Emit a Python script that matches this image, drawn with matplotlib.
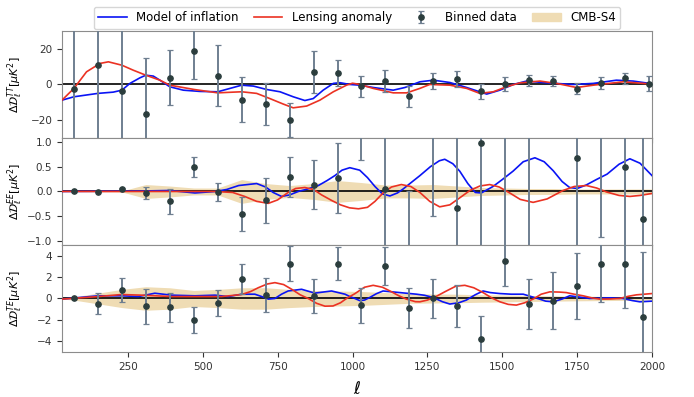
import matplotlib
matplotlib.use("Agg")
import matplotlib.pyplot as plt
import matplotlib.patches as mpatches

# binned data (bin centres in ell)
ell_tt = [70, 150, 230, 310, 390, 470, 550, 630, 710, 790, 870, 950, 1030,
          1110, 1190, 1270, 1350, 1430, 1510, 1590, 1670, 1750, 1830, 1910, 1990]
ell_pol = [70, 150, 230, 310, 390, 470, 550, 630, 710, 790, 870, 950, 1030,
           1110, 1190, 1270, 1350, 1430, 1510, 1590, 1670, 1750, 1830, 1910, 1970]

tt_data = [-2.4, 11.0, -3.8, -16.5, 3.8, 19.0, 5.0, -8.5, -11.0, -19.8, 7.0, 6.3, -1.0,
           1.9, -6.7, 1.9, 3.1, -3.8, 0.2, 2.4, 1.9, -2.3, 0.7, 3.4, 0.5]
tt_err = [60, 60, 60, 31.5, 15.5, 15.8, 17.0, 12.7, 12.0, 9.5, 12.0, 7.2, 6.0,
          6.0, 6.0, 4.5, 4.5, 4.3, 4.0, 3.0, 3.0, 3.0, 3.5, 3.0, 4.0]

ee_data = [0.0, -0.01, 0.05, -0.03, -0.2, 0.49, -0.01, -0.46, -0.18, 0.29, 0.14, 0.27, 1.3,
           0.05, -1.3, 1.2, -0.33, 0.97, -1.5, 1.6, -1.8, 0.68, 1.2, 0.5, -0.55]
ee_err = [0.01, 0.01, 0.02, 0.13, 0.25, 0.2, 0.19, 0.34, 0.45, 0.41, 0.5, 0.71, 0.67,
          1.3, 1.31, 1.7, 1.5, 2.2, 3.0, 3.2, 0.5, 1.9, 2.12, 1.8, 1.8]

te_data = [0.0, -0.49, 0.77, -0.74, -0.83, -2.0, -0.4, 1.78, 0.31, 3.26, 0.25, 3.26, -0.62,
           3.05, -0.89, 0.0, -0.68, -3.82, 3.48, -0.52, -0.22, 1.14, 3.2, 3.23, -1.69]
te_err = [0.03, 0.97, 1.1, 1.63, 1.35, 1.23, 1.2, 1.4, 1.62, 1.65, 1.6, 1.55, 1.63,
          1.8, 1.83, 1.8, 1.95, 2.2, 2.3, 2.35, 2.65, 3.1, 3.57, 4.15, 6.0]

# CMB-S4 forecast band (half width)
band_ell = [30, 70, 150, 230, 310, 390, 470, 550, 630, 710, 790, 870, 950, 1030,
            1110, 1190, 1270, 1350, 1430, 1510, 1590, 1670, 1750, 1830, 1910, 2000]
ee_band = [0.0, 0.0, 0.005, 0.01, 0.14, 0.11, 0.07, 0.07, 0.24, 0.16, 0.12, 0.16, 0.22, 0.18,
           0.13, 0.13, 0.14, 0.11, 0.08, 0.07, 0.06, 0.06, 0.05, 0.05, 0.05, 0.05]
te_band = [0.05, 0.15, 0.5, 0.85, 1.1, 1.0, 0.75, 0.85, 1.0, 1.0, 0.85, 0.75, 0.7, 0.65,
           0.55, 0.45, 0.42, 0.4, 0.35, 0.32, 0.28, 0.25, 0.22, 0.2, 0.18, 0.15]

# model curves
tt_infl_ell = [30, 70, 150, 201, 230, 257, 290, 310, 335, 357, 390, 435, 491, 550, 602, 630,
               669, 713, 758, 802, 841, 869, 902, 936, 958, 991, 1025, 1069, 1136, 1175,
               1225, 1270, 1325, 1381, 1448, 1492, 1537, 1581, 1648, 1737, 1804, 1881, 1937, 2000]
tt_infl = [-8.8, -6.9, -5.0, -4.3, -3.2, 0.6, 3.7, 5.2, 4.7, 2.4, -1.3, -3.2, -3.9, -4.1, -1.7, -0.4,
           -0.9, -2.8, -4.1, -6.9, -9.0, -7.9, -3.2, 0.6, 1.0, 0.0, -0.4, -1.7, -3.2, -1.7,
           1.5, 2.4, 1.1, -1.7, -5.4, -3.2, 0.0, 1.9, 0.9, 0.0, 0.6, 2.4, 1.9, 0.4]

tt_lens_ell = [30, 70, 112, 157, 185, 230, 268, 310, 357, 390, 471, 550, 602, 630, 680, 724,
               769, 802, 847, 891, 936, 980, 1000, 1025, 1069, 1136, 1181, 1225, 1258, 1325,
               1381, 1425, 1470, 1514, 1559, 1626, 1681, 1748, 1804, 1904, 2000]
tt_lens = [-8.8, -2.2, 7.1, 11.8, 12.7, 10.8, 8.0, 5.2, 2.4, -0.4, -2.8, -4.7, -4.3, -4.1, -5.0, -7.9,
           -11.0, -13.1, -12.1, -8.8, -4.1, -0.4, 0.7, 0.0, -2.2, -4.7, -4.7, -2.2, 0.0, -0.4,
           -2.2, -5.0, -4.1, -1.3, 0.9, 1.9, 0.6, -1.7, -0.4, 1.5, 0.2]

ee_infl_ell = [30, 300, 390, 474, 541, 580, 620, 680, 710, 735, 763, 790, 819, 850, 886, 915,
               941, 965, 991, 1024, 1050, 1075, 1100, 1125, 1150, 1169, 1200, 1225, 1260, 1290,
               1308, 1335, 1358, 1385, 1410, 1430, 1469, 1500, 1536, 1570, 1609, 1640, 1670,
               1700, 1725, 1750, 1780, 1814, 1850, 1890, 1926, 1960, 2000]
ee_infl = [0.0, 0.01, 0.02, -0.03, 0.0, 0.04, 0.12, 0.16, 0.09, -0.02, -0.1, -0.07, 0.0, 0.05, 0.12, 0.22,
           0.32, 0.43, 0.48, 0.43, 0.28, 0.1, -0.05, -0.09, -0.03, 0.05, 0.2, 0.32, 0.5, 0.62,
           0.65, 0.56, 0.41, 0.16, -0.02, -0.03, 0.1, 0.24, 0.41, 0.6, 0.68, 0.6, 0.42,
           0.2, 0.08, 0.06, 0.13, 0.24, 0.35, 0.55, 0.66, 0.57, 0.32]

ee_lens_ell = [30, 400, 540, 600, 640, 680, 719, 750, 785, 810, 841, 870, 897, 930, 960, 990,
               1020, 1050, 1075, 1102, 1130, 1163, 1195, 1225, 1258, 1291, 1325, 1360, 1392,
               1425, 1458, 1490, 1525, 1560, 1603, 1650, 1703, 1740, 1781, 1815, 1848, 1890,
               1926, 1960, 2000]
ee_lens = [0.0, 0.0, 0.0, -0.02, -0.1, -0.2, -0.24, -0.17, -0.02, 0.06, 0.08, 0.04, -0.07, -0.18, -0.27, -0.33,
           -0.35, -0.32, -0.2, -0.03, 0.09, 0.14, 0.1, -0.02, -0.2, -0.31, -0.27, -0.12, 0.02,
           0.11, 0.14, 0.09, -0.03, -0.16, -0.22, -0.15, 0.02, 0.1, 0.12, 0.07, -0.01, -0.08,
           -0.1, -0.08, -0.04]

te_infl_ell = [30, 151, 229, 285, 340, 396, 474, 541, 585, 630, 674, 700, 719, 741, 763, 785,
               830, 874, 930, 975, 991, 1008, 1024, 1040, 1058, 1080, 1102, 1158, 1214, 1240,
               1269, 1300, 1325, 1355, 1380, 1410, 1436, 1460, 1492, 1530, 1570, 1600, 1625,
               1645, 1670, 1700, 1725, 1760, 1792, 1859, 1903, 1935, 1959, 2000]
te_infl = [-0.06, 0.25, 0.25, 0.18, 0.49, 0.31, 0.25, 0.31, 0.18, 0.4, 0.4, 0.15, -0.06, 0.0, 0.4, 0.7,
           0.86, 0.5, 0.7, 0.4, 0.18, 0.0, -0.2, -0.15, 0.1, 0.45, 0.7, 0.55, 0.4, 0.3,
           0.1, -0.3, -0.52, -0.4, -0.15, 0.35, 0.7, 0.55, 0.46, 0.4, 0.4, 0.15, -0.06,
           -0.25, -0.31, -0.05, 0.25, 0.12, 0.0, 0.06, 0.0, -0.2, -0.31, -0.25]

te_lens_ell = [30, 151, 229, 296, 396, 474, 563, 630, 660, 685, 715, 741, 770, 797, 825, 852,
               880, 908, 935, 960, 980, 1008, 1040, 1069, 1100, 1125, 1155, 1180, 1210, 1225,
               1250, 1280, 1310, 1345, 1375, 1405, 1436, 1465, 1492, 1520, 1547, 1575, 1603,
               1630, 1659, 1690, 1714, 1740, 1770, 1800, 1825, 1860, 1892, 1920, 1948, 2000]
te_lens = [-0.06, 0.18, 0.37, 0.31, 0.18, 0.18, 0.18, 0.37, 0.65, 1.0, 1.35, 1.48, 1.3, 0.86, 0.35, 0.0,
           -0.45, -0.72, -0.7, -0.4, 0.0, 0.45, 1.05, 1.23, 1.05, 0.7, 0.25, -0.06, -0.3, -0.31,
           -0.15, 0.2, 0.65, 1.15, 1.23, 1.0, 0.55, 0.05, -0.31, -0.55, -0.62, -0.4, -0.06,
           0.4, 0.62, 0.6, 0.55, 0.4, 0.25, 0.05, -0.06, -0.05, 0.0, 0.2, 0.34, 0.46]

BLUE = "#0a14f5"
RED = "#eb3223"
BAND = "#efdcb4"
plt.rcParams.update({"font.size": 7.5, "axes.edgecolor": "#8c8c8c"})

fig, axes = plt.subplots(3, 1, sharex=True, figsize=(6.94, 3.97), dpi=100)
fig.subplots_adjust(left=0.0893, right=0.9395, top=0.922, bottom=0.1134, hspace=0)

panels = [
    (tt_infl_ell, tt_infl, tt_lens_ell, tt_lens, ell_tt, tt_data, tt_err, None, (-30, 30), [-20, 0, 20], "TT"),
    (ee_infl_ell, ee_infl, ee_lens_ell, ee_lens, ell_pol, ee_data, ee_err, ee_band, (-1.08, 1.08),
     [-1.0, -0.5, 0.0, 0.5, 1.0], "EE"),
    (te_infl_ell, te_infl, te_lens_ell, te_lens, ell_pol, te_data, te_err, te_band, (-5, 5), [-4, -2, 0, 2, 4], "TE"),
]

for ax, (ie, iv, le, lv, de, dv, derr, band, ylim, yt, spec) in zip(axes, panels):
    if band is not None:
        lo = [-b for b in band]
        ax.fill_between(band_ell, lo, band, color=BAND, lw=0, zorder=1)
    ax.axhline(0, color="k", lw=1.2, zorder=2)
    ax.plot(ie, iv, color=BLUE, lw=1.2, zorder=3)
    ax.plot(le, lv, color=RED, lw=1.2, zorder=3)
    ax.errorbar(de, dv, yerr=derr, fmt="o", color="#2b3d3d", ms=3.8,
                ecolor="#6f7f90", elinewidth=1.4, capsize=2.2, capthick=0.9, zorder=4)
    ax.set_ylim(*ylim)
    ax.set_yticks(yt)
    ax.set_ylabel(r"$\Delta\mathcal{D}_\ell^{%s}[\mu K^2]$" % spec, fontsize=8)
    ax.yaxis.set_label_coords(-0.062, 0.5)
    ax.tick_params(colors="#333333", labelsize=7.5)

axes[2].set_xlim(30, 2000)
axes[2].set_xticks([250, 500, 750, 1000, 1250, 1500, 1750, 2000])
axes[2].set_xlabel(r"$\ell$", fontsize=12, labelpad=6)

handles = [
    plt.Line2D([], [], color=BLUE, lw=1.2),
    plt.Line2D([], [], color=RED, lw=1.2),
    axes[0].containers[0],
    mpatches.Patch(color=BAND),
]
labels = ["Model of inflation", "Lensing anomaly", "Binned data", "CMB-S4"]
axes[0].legend(handles, labels, loc="lower center", bbox_to_anchor=(0.5, 1.0), ncol=4,
               fontsize=8.5, columnspacing=1.3, handlelength=2.4, borderaxespad=0.15,
               frameon=True, edgecolor="#cccccc")

fig.savefig("out.png", dpi=100)
